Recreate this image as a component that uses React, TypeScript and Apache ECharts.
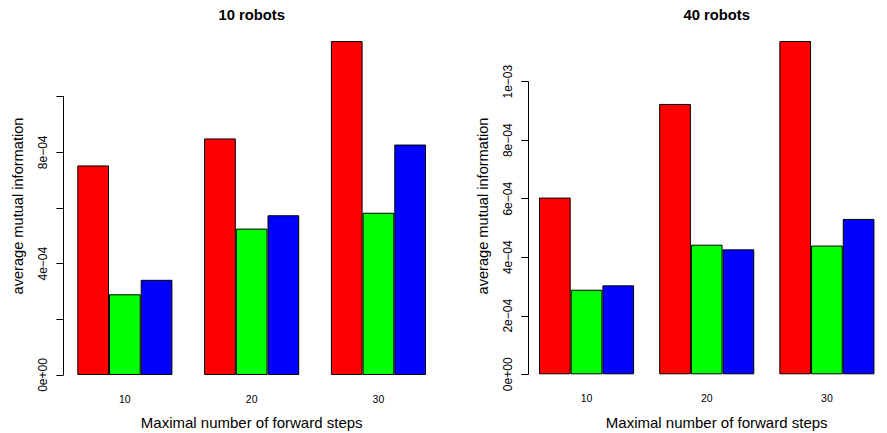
import React, { useEffect, useRef } from "react";
import * as echarts from "echarts";

const categories = ["10", "20", "30"];
const seriesColors = ["#FF0000", "#00FF00", "#0000FF"];

// 10 robots panel: values per series (red, green, blue) across categories
const left10Red = [7.53e-4, 8.5e-4, 1.2e-3];
const left10Green = [2.9e-4, 5.26e-4, 5.83e-4];
const left10Blue = [3.42e-4, 5.74e-4, 8.28e-4];

// 40 robots panel
const right40Red = [6.04e-4, 9.24e-4, 1.139e-3];
const right40Green = [2.89e-4, 4.43e-4, 4.4e-4];
const right40Blue = [3.04e-4, 4.27e-4, 5.31e-4];

const leftTickLabels = ["0e+00", "", "4e\u221204", "", "8e\u221204", ""];
const rightTickLabels = ["0e+00", "2e\u221204", "4e\u221204", "6e\u221204", "8e\u221204", "1e\u221203"];

const titles = ["10 robots", "40 robots"];
const xTitle = "Maximal number of forward steps";
const yTitle = "average mutual information";

const UNIT = 31.7;
const FONT = "Liberation Sans, Arial, Helvetica, sans-serif";

export default function App() {
  const ref = useRef<HTMLDivElement>(null);
  useEffect(() => {
    if (!ref.current) return;
    const chart = echarts.init(ref.current, null, { renderer: "svg" });

    const grids = [
      { left: 77.3 - UNIT / 2, top: 96.7, width: UNIT * 12, height: 278.3 },
      { left: 542.3 - UNIT / 2, top: 81.7, width: UNIT * 12, height: 292.6 },
    ];
    const labelSets = [leftTickLabels, rightTickLabels];
    const data = [
      [left10Red, left10Green, left10Blue],
      [right40Red, right40Green, right40Blue],
    ];

    const xAxis = grids.map((_, i) => ({
      type: "category" as const,
      gridIndex: i,
      data: categories,
      axisLine: { show: false },
      axisTick: { show: false },
      axisLabel: { color: "#000", fontSize: 10.5, fontFamily: FONT, margin: 18 },
    }));
    const yAxis = grids.map((_, i) => ({
      type: "value" as const,
      gridIndex: i,
      min: 0,
      max: 0.001,
      interval: 0.0002,
      offset: -1.9,
      splitLine: { show: false },
      axisLine: { show: true, lineStyle: { color: "#000", width: 1 } },
      axisTick: { show: true, length: 7, lineStyle: { color: "#000" } },
      axisLabel: {
        rotate: 90,
        color: "#000",
        fontSize: 12,
        fontFamily: FONT,
        margin: i === 0 ? 14 : 14.5,
        formatter: (v: number) => {
          const idx = Math.round(v / 0.0002);
          return labelSets[i][idx] ?? "";
        },
      },
    }));

    const series: any[] = [];
    data.forEach((panel, gi) => {
      panel.forEach((vals, si) => {
        series.push({
          type: "bar",
          xAxisIndex: gi,
          yAxisIndex: gi,
          data: vals,
          barWidth: UNIT,
          barGap: "0%",
          clip: false,
          itemStyle: { color: seriesColors[si], borderColor: "#000", borderWidth: 1 },
        });
      });
    });

    const centers = [251.7, 716.7];
    const yTitleX = [17.5, 482.8];
    const graphic: any[] = [];
    centers.forEach((cx, i) => {
      graphic.push({
        type: "text",
        x: cx,
        y: 15,
        style: {
          text: titles[i],
          fontSize: 14.8,
          fontWeight: "bold",
          fontFamily: FONT,
          fill: "#000",
          align: "center",
          verticalAlign: "middle",
        },
      });
      graphic.push({
        type: "text",
        x: cx,
        y: 422,
        style: {
          text: xTitle,
          fontSize: 15,
          fontFamily: FONT,
          fill: "#000",
          align: "center",
          verticalAlign: "middle",
        },
      });
      graphic.push({
        type: "text",
        x: yTitleX[i],
        y: 206,
        rotation: Math.PI / 2,
        style: {
          text: yTitle,
          fontSize: 14.6,
          fontFamily: FONT,
          fill: "#000",
          align: "center",
          verticalAlign: "middle",
        },
      });
    });

    chart.setOption({
      animation: false,
      backgroundColor: "#fff",
      grid: grids.map((g) => ({ ...g, containLabel: false })),
      xAxis,
      yAxis,
      series,
      graphic,
    });
    return () => chart.dispose();
  }, []);
  return (
    <div
      ref={ref}
      style={{ position: "absolute", left: 0, top: 0, width: 887, height: 433 }}
    />
  );
}
